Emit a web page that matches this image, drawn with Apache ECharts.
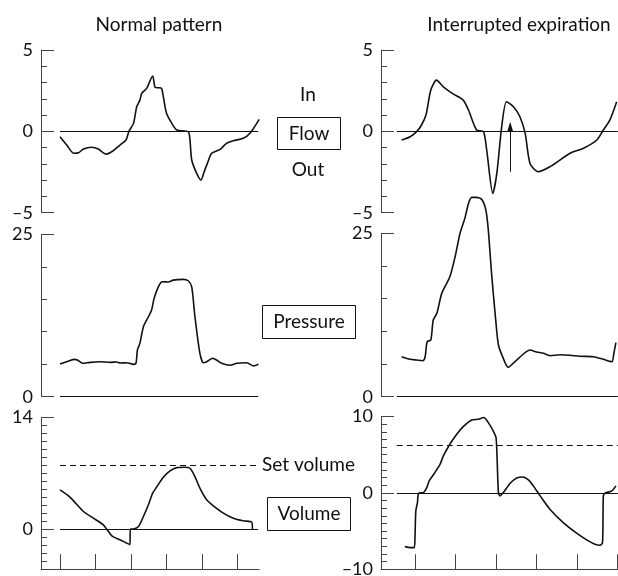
<!DOCTYPE html>
<html>
<head>
<meta charset="utf-8">
<title>Flow, pressure and volume</title>
<script src="https://cdn.jsdelivr.net/npm/echarts@6/dist/echarts.min.js"></script>
<style>
html, body { margin: 0; padding: 0; background: #fff; }
#chart { width: 618px; height: 576px; }
</style>
</head>
<body>
<div id="chart"></div>
<script>
// time is in "bottom tick" units, one tick = 1
var flowNormalT = [0, 0.19, 0.39, 0.52, 0.66, 0.89, 1.08, 1.30, 1.50, 1.69, 1.86, 1.94, 2.07, 2.16, 2.25, 2.30, 2.44, 2.61, 2.68, 2.77, 2.86, 2.91, 3.00, 3.15, 3.29, 3.61, 3.66, 3.71, 3.85, 3.97, 4.06, 4.15, 4.27, 4.51, 4.69, 4.88, 5.16, 5.35, 5.61];
var flowNormal = [-0.33, -0.84, -1.35, -1.32, -1.09, -0.98, -1.09, -1.40, -1.19, -0.84, -0.53, 0, 0.49, 1.51, 1.92, 2.34, 2.64, 3.40, 2.70, 2.68, 2.64, 2.13, 1.11, 0.49, 0.08, -0.02, -0.53, -1.76, -2.58, -2.99, -2.48, -1.97, -1.35, -1.11, -0.74, -0.58, -0.43, -0.12, 0.74];

var flowInterT = [-0.33, -0.12, 0.04, 0.16, 0.27, 0.39, 0.53, 0.70, 0.95, 1.19, 1.32, 1.52, 1.69, 1.77, 1.92, 2.02, 2.14, 2.26, 2.43, 2.59, 2.72, 2.84, 3.04, 3.33, 3.83, 4.16, 4.49, 4.65, 4.81, 4.98];
var flowInter = [-0.53, -0.33, -0.02, 0.39, 1.00, 2.54, 3.15, 2.74, 2.29, 1.92, 1.31, 0.08, -0.02, -1.15, -3.81, -2.58, 0.28, 1.82, 1.51, 0.90, -0.12, -1.97, -2.48, -2.18, -1.35, -1.04, -0.53, 0.08, 0.69, 1.82];

var pressNormalT = [0, 0.19, 0.39, 0.49, 0.64, 0.85, 1.13, 1.41, 1.60, 1.69, 1.88, 2.07, 2.14, 2.18, 2.25, 2.35, 2.49, 2.58, 2.65, 2.77, 2.88, 3.05, 3.19, 3.47, 3.61, 3.71, 3.80, 3.94, 4.04, 4.13, 4.30, 4.41, 4.55, 4.79, 4.98, 5.26, 5.45, 5.59];
var pressNormal = [5.03, 5.38, 5.75, 5.65, 5.14, 5.29, 5.38, 5.29, 5.34, 5.18, 5.23, 4.98, 5.14, 7.18, 8.21, 10.77, 12.31, 13.34, 15.14, 16.92, 17.69, 17.65, 17.95, 18.06, 17.85, 16.92, 12.31, 6.68, 5.23, 5.38, 5.91, 5.65, 5.14, 4.83, 5.14, 5.23, 4.72, 4.98];

var pressInterT = [-0.33, -0.12, 0.04, 0.19, 0.25, 0.30, 0.39, 0.45, 0.54, 0.66, 0.86, 0.99, 1.11, 1.23, 1.32, 1.40, 1.52, 1.65, 1.75, 1.81, 1.89, 2.00, 2.06, 2.18, 2.30, 2.51, 2.84, 3.00, 3.17, 3.33, 3.58, 3.83, 4.07, 4.40, 4.65, 4.86, 4.91, 4.96];
var pressInter = [6.12, 5.72, 5.61, 5.51, 6.12, 8.41, 8.67, 11.73, 12.75, 15.81, 18.35, 21.41, 24.98, 27.28, 29.57, 30.49, 30.49, 30.18, 28.55, 25.49, 18.87, 11.22, 7.91, 5.87, 4.50, 5.61, 7.14, 6.84, 6.64, 6.27, 6.42, 6.33, 6.18, 6.12, 5.72, 5.36, 6.64, 8.26];

var volNormalT = [0, 0.28, 0.66, 0.94, 1.22, 1.33, 1.46, 1.69, 1.97, 1.98, 2.06, 2.21, 2.35, 2.49, 2.61, 2.72, 2.91, 3.10, 3.29, 3.52, 3.66, 3.80, 3.94, 4.13, 4.32, 4.60, 4.88, 5.16, 5.40, 5.42];
var volNormal = [4.91, 4.0, 2.2, 1.37, 0.54, -0.09, -0.84, -1.34, -1.96, 0, 0, 0.33, 1.58, 3.04, 4.5, 5.25, 6.5, 7.29, 7.7, 7.75, 7.62, 6.58, 5.12, 3.66, 2.91, 2.0, 1.37, 1.04, 0.87, 0];

var volInterT = [-0.25, -0.12, -0.02, 0.0, 0.02, 0.06, 0.09, 0.21, 0.29, 0.35, 0.49, 0.62, 0.70, 0.86, 1.03, 1.19, 1.40, 1.56, 1.70, 1.81, 1.93, 2.00, 2.03, 2.06, 2.10, 2.18, 2.35, 2.51, 2.66, 2.80, 2.92, 3.09, 3.33, 3.66, 3.99, 4.24, 4.44, 4.57, 4.63, 4.65, 4.69, 4.86, 4.96];
var volInter = [-7.03, -7.16, -7.16, -5.63, -2.36, -1.27, -0.04, 0.04, 0.69, 1.57, 2.66, 3.76, 4.84, 6.37, 7.68, 8.68, 9.55, 9.64, 9.86, 9.2, 8.12, 7.24, 3.97, 0.04, -0.39, 0.04, 1.27, 1.96, 2.09, 1.70, 0.92, -0.39, -2.13, -3.89, -5.27, -6.15, -6.71, -6.85, -6.51, -0.39, -0.04, 0.26, 0.92];

// set volume levels (left, right) and baseline extents
var setVolume = [7.95, 6.24];
var baseSpanLeft = [0, 5.58];
var baseSpanRight = [-0.45, 5.01];
var setSpanLeft = [0, 5.61];
// arrow on the interrupted flow trace: time, from, to
var arrowT = 2.35;
var arrowFlow = [-2.48, 0.28];

var bottomTicks = [0, 1, 2, 3, 4, 5];

var FONT = 'Lato, "DejaVu Sans", sans-serif';
var AXIS_COLOR = '#444';
var INK = '#111';

function zip(t, v) {
    var out = [];
    for (var i = 0; i < t.length; i++) {
        out.push([t[i], v[i]]);
    }
    return out;
}

function dashLabel(v) {
    return v < 0 ? '\u2013' + Math.abs(v) : String(v);
}

// short ticks on one axis, long ticks + labels on an overlapping one
function yPair(gi, min, max, step, big, labelled) {
    return [
        {
            gridIndex: gi, type: 'value', position: 'left', min: min, max: max, interval: step,
            axisLine: { show: true, onZero: false, lineStyle: { color: AXIS_COLOR, width: 1 } },
            axisTick: { show: true, inside: true, length: 6, lineStyle: { color: AXIS_COLOR } },
            axisLabel: { show: false },
            splitLine: { show: false }
        },
        {
            gridIndex: gi, type: 'value', position: 'left', min: min, max: max,
            axisLine: { show: false, onZero: false },
            axisTick: { show: true, inside: true, length: 13, customValues: big, lineStyle: { color: AXIS_COLOR } },
            axisLabel: {
                show: true, customValues: labelled, margin: 8, formatter: dashLabel,
                color: INK, fontSize: 18, fontFamily: FONT
            },
            splitLine: { show: false }
        }
    ];
}

function xAxisFor(gi, min, max, showIt) {
    return {
        gridIndex: gi, type: 'value', min: min, max: max, show: showIt,
        axisLine: { show: true, onZero: false, lineStyle: { color: AXIS_COLOR, width: 1 } },
        axisTick: { show: true, inside: true, length: 15, customValues: bottomTicks, lineStyle: { color: AXIS_COLOR } },
        axisLabel: { show: false },
        splitLine: { show: false }
    };
}

function hLine(span, y, dashed) {
    return [{ coord: [span[0], y], lineStyle: { type: dashed ? [6, 4] : 'solid', color: INK, width: 1 } },
            { coord: [span[1], y] }];
}

function trace(gi, yIndex, data, marks) {
    return {
        type: 'line',
        xAxisIndex: gi,
        yAxisIndex: yIndex,
        data: data,
        smooth: 0.25,
        showSymbol: false,
        clip: false,
        silent: true,
        animation: false,
        lineStyle: { color: INK, width: 1.6 },
        markLine: {
            silent: true,
            symbol: 'none',
            animation: false,
            label: { show: false },
            lineStyle: { type: 'solid', color: INK, width: 1 },
            data: marks
        }
    };
}

var L = { left: 41, width: 218.2, xMin: -0.535, xMax: 5.61 };
var R = { left: 381, width: 237, xMin: -0.84, xMax: 5.012 };

var grids = [
    { left: L.left, width: L.width, top: 50, height: 162.7 },
    { left: R.left, width: R.width, top: 50, height: 162.7 },
    { left: L.left, width: L.width, top: 234.3, height: 162.4 },
    { left: R.left, width: R.width, top: 233.3, height: 163.4 },
    { left: L.left, width: L.width, top: 417.3, height: 151.7 },
    { left: R.left, width: R.width, top: 416.5, height: 152.8 }
];
grids.forEach(function (g) { g.outerBoundsMode = 'none'; g.containLabel = false; });

var xAxes = [
    xAxisFor(0, L.xMin, L.xMax, false),
    xAxisFor(1, R.xMin, R.xMax, false),
    xAxisFor(2, L.xMin, L.xMax, false),
    xAxisFor(3, R.xMin, R.xMax, false),
    xAxisFor(4, L.xMin, L.xMax, true),
    xAxisFor(5, R.xMin, R.xMax, true)
];

var yAxes = [].concat(
    yPair(0, -5, 5, 1, [-5, 0, 5], [-5, 0, 5]),
    yPair(1, -5, 5, 1, [-5, 0, 5], [-5, 0, 5]),
    yPair(2, 0, 25, 5, [0, 25], [0, 25]),
    yPair(3, 0, 25, 5, [0, 25], [0, 25]),
    yPair(4, -5, 14, 1, [-5, 0, 14], [0, 14]),
    yPair(5, -10, 10, 1, [-10, 0, 10], [-10, 0, 10])
);

var arrowMark = [
    { coord: [arrowT, arrowFlow[0]], symbol: 'none', lineStyle: { type: 'solid', color: INK, width: 1 } },
    { coord: [arrowT, arrowFlow[1]], symbol: 'triangle', symbolSize: [6, 10] }
];

var series = [
    trace(0, 0, zip(flowNormalT, flowNormal), [hLine(baseSpanLeft, 0)]),
    trace(1, 2, zip(flowInterT, flowInter), [hLine(baseSpanRight, 0), arrowMark]),
    trace(2, 4, zip(pressNormalT, pressNormal), [hLine(baseSpanLeft, 0)]),
    trace(3, 6, zip(pressInterT, pressInter), [hLine(baseSpanRight, 0)]),
    trace(4, 8, zip(volNormalT, volNormal), [hLine(baseSpanLeft, 0), hLine(setSpanLeft, setVolume[0], true)]),
    trace(5, 10, zip(volInterT, volInter), [hLine(baseSpanRight, 0), hLine(baseSpanRight, setVolume[1], true)])
];

function label(text, x, y, align) {
    return {
        type: 'text', silent: true,
        style: {
            text: text, x: x, y: y, fill: INK,
            font: '19px ' + FONT,
            textAlign: align || 'center', textVerticalAlign: 'middle'
        }
    };
}

function box(x, y, w, h) {
    return {
        type: 'rect', silent: true,
        shape: { x: x, y: y, width: w, height: h },
        style: { fill: 'none', stroke: INK, lineWidth: 1 }
    };
}

var graphics = [
    label('Normal pattern', 159, 25),
    label('Interrupted expiration', 519, 25),
    label('In', 308, 95),
    box(277.5, 117.5, 63, 32),
    label('Flow', 309, 133.5),
    label('Out', 308, 170),
    box(262.5, 305.5, 93, 33),
    label('Pressure', 309, 322),
    label('Set volume', 262, 465, 'left'),
    box(267.5, 497.5, 83, 33),
    label('Volume', 309, 514)
];

var chart = echarts.init(document.getElementById('chart'), null, { renderer: 'canvas' });
chart.setOption({
    animation: false,
    backgroundColor: '#fff',
    grid: grids,
    xAxis: xAxes,
    yAxis: yAxes,
    series: series,
    graphic: graphics
});
</script>
</body>
</html>
